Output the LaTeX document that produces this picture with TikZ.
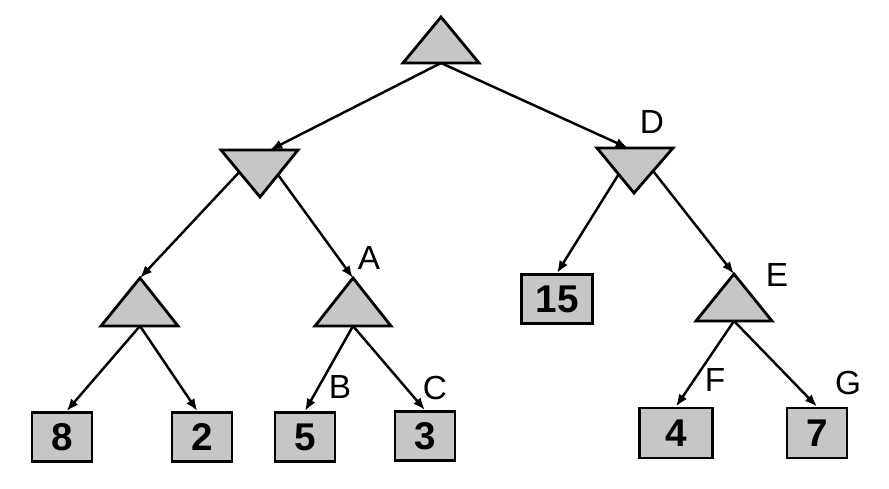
\documentclass[tikz,border=0pt]{standalone}
\usepackage{fontspec}
\setmainfont{Liberation Sans}
\usetikzlibrary{arrows.meta}

\begin{document}
\begin{tikzpicture}[x=0.02cm, y=-0.02cm,
    tri/.style={draw, fill=gray!45, line width=1.6pt, line join=miter},
    leaf/.style={draw, fill=gray!45, line width=1.6pt, inner sep=0pt,
      minimum width=1.2cm, minimum height=0.98cm,
      font=\fontsize{22}{24}\selectfont\bfseries},
    edge/.style={-{Latex[length=7pt,width=5.5pt]}, line width=1.4pt},
    lbl/.style={font=\fontsize{19}{21}\selectfont}]
    \useasboundingbox (0,0) rectangle (889,489);

    % Triangle positions (apex of max nodes, top centre of min nodes)
    \coordinate (root) at (441,17);
    \coordinate (root-b) at (441,63);
    \coordinate (L) at (260,150);
    \coordinate (L-in) at (270,150);
    \coordinate (D) at (635,148);
    \coordinate (D-in) at (628,148);
    \coordinate (M) at (140,278);
    \coordinate (M-b) at (140,326);
    \coordinate (A) at (353,278);
    \coordinate (A-b) at (353,326);
    \coordinate (E) at (734,274);
    \coordinate (E-b) at (734,321);

    % Leaves
    \node[leaf] (n8) at (62,437) {8};
    \node[leaf] (n2) at (202,437) {2};
    \node[leaf] (n5) at (305,437) {5};
    \node[leaf] (n3) at (425,436) {3};
    \node[leaf, minimum width=1.42cm] (n15) at (557,299) {15};
    \node[leaf, minimum width=1.46cm, minimum height=1cm] (n4) at (676,433) {4};
    \node[leaf, minimum height=1cm] (n7) at (817,433) {7};

    % Edges (drawn first, the triangles cover their starts)
    \draw[edge] (root-b) -- (L-in);
    \draw[edge] (root-b) -- (D-in);
    \draw[edge] (L) -- (M);
    \draw[edge] (L) -- (A);
    \draw[edge] (D) -- (n15.north);
    \draw[edge] (D) -- (E);
    \draw[edge] (M-b) -- (n8.80);
    \draw[edge] (M-b) -- (n2.100);
    \draw[edge] (A-b) -- (n5.north);
    \draw[edge] (A-b) -- (n3.north);
    \draw[edge] (E-b) -- (n4.north);
    \draw[edge] (E-b) -- (n7.north);

    % Max nodes
    \draw[tri] (root) +(0,0) -- +(-38,46) -- +(38,46) -- cycle;
    \draw[tri] (M) +(0,0) -- +(-39,48) -- +(38,48) -- cycle;
    \draw[tri] (A) +(0,0) -- +(-38,48) -- +(38,48) -- cycle;
    \draw[tri] (E) +(0,0) -- +(-38,47) -- +(38,47) -- cycle;

    % Min nodes
    \draw[tri] (L) +(-39,0) -- +(38,0) -- +(0,47) -- cycle;
    \draw[tri] (D) +(-38,0) -- +(38,0) -- +(-1,45) -- cycle;

    % Labels
    \node[lbl] (lD) at (652,122) {D};
    \node[lbl] (lA) at (369,258) {A};
    \node[lbl] (lE) at (777,275) {E};
    \node[lbl] (lB) at (340,387) {B};
    \node[lbl] (lC) at (435,388) {C};
    \node[lbl] (lF) at (715,380) {F};
    \node[lbl] (lG) at (848,383) {G};
\end{tikzpicture}
\end{document}
